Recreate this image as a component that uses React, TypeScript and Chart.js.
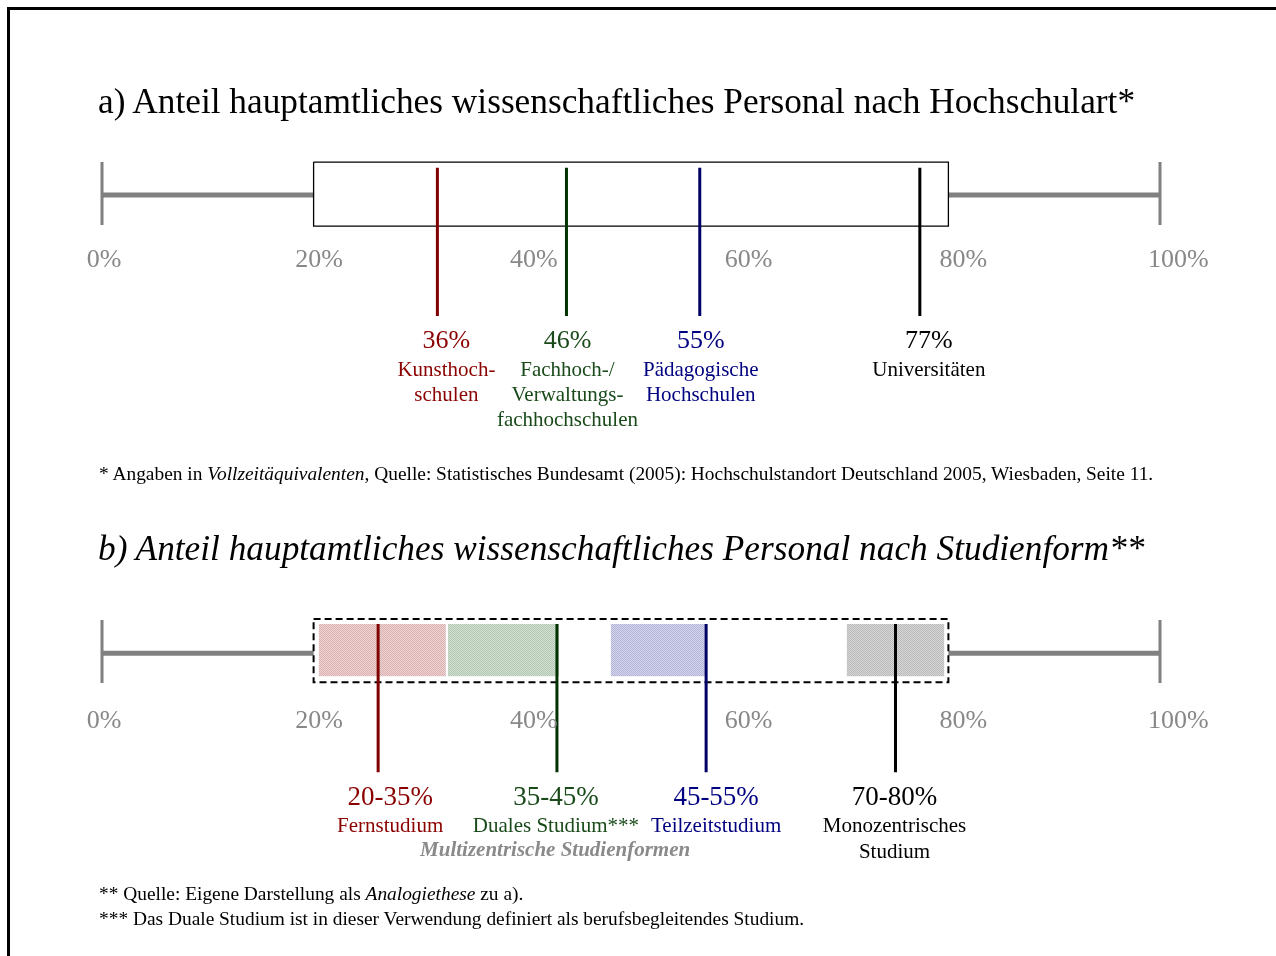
import React, { useEffect, useRef } from "react";
import { Chart, registerables } from "chart.js";

Chart.register(...registerables);

// ---------- data ----------
const tickValues = [0, 20, 40, 60, 80, 100];
const tickLabels = ["0%", "20%", "40%", "60%", "80%", "100%"];

// a) Hochschulart
const aWhisker = [0, 100];
const aBox = [20, 80];
const aMarkers = [31.7, 43.9, 56.5, 77.3];
const aValueLabels = ["36%", "46%", "55%", "77%"];
const aCategoryLines = [
  ["Kunsthoch-", "schulen"],
  ["Fachhoch-/", "Verwaltungs-", "fachhochschulen"],
  ["Pädagogische", "Hochschulen"],
  ["Universitäten"],
];

// b) Studienform
const bWhisker = [0, 100];
const bBox = [20, 80];
const bBandLow = [20.5, 32.7, 48.1, 70.4];
const bBandHigh = [32.5, 43.2, 57.1, 79.6];
const bMarkers = [26.1, 43.0, 57.1, 75.0];
const bValueLabels = ["20-35%", "35-45%", "45-55%", "70-80%"];
const bCategoryLines = [
  ["Fernstudium"],
  ["Duales Studium***"],
  ["Teilzeitstudium"],
  ["Monozentrisches", "Studium"],
];
const bGroupLabel = "Multizentrische Studienformen";

// ---------- styles / layout ----------
const lineColors = ["#800000", "#003300", "#000066", "#000000"];
const textColors = ["#8b0000", "#1a4a1a", "#000080", "#000000"];
const bandLight = ["rgb(240,212,212)", "rgb(210,224,210)", "rgb(212,212,236)", "rgb(214,214,214)"];
const bandDark = ["rgb(216,178,178)", "rgb(180,200,180)", "rgb(180,180,214)", "rgb(186,186,186)"];
const aLabelShift = [9, 1, 1, 9];
const bLabelShift = [12, -1, 10, -1];

const SERIF = '"Liberation Serif", "Times New Roman", serif';
const GRAY = "#808080";
const Y_MIN = -23.8;
const Y_MAX = 6.1;
const A_BASE = 0;
const B_BASE = -14.33;

function makePattern(light: string, dark: string) {
  const c = document.createElement("canvas");
  c.width = 2;
  c.height = 2;
  const g = c.getContext("2d")!;
  g.fillStyle = light;
  g.fillRect(0, 0, 2, 2);
  g.fillStyle = dark;
  g.fillRect(0, 0, 1, 1);
  g.fillRect(1, 1, 1, 1);
  return g.createPattern(c, "repeat")!;
}

const seg = (x0: number, y0: number, x1: number, y1: number) => [
  { x: x0, y: y0 },
  { x: x1, y: y1 },
];
const rect = (x0: number, x1: number, top: number, bottom: number) => [
  { x: x0, y: top },
  { x: x1, y: top },
  { x: x1, y: bottom },
  { x: x0, y: bottom },
  { x: x0, y: top },
];

function lineDs(data: any[], color: string, width: number, order: number, extra: any = {}) {
  return {
    data,
    showLine: true,
    borderColor: color,
    borderWidth: width,
    pointRadius: 0,
    borderCapStyle: "butt",
    borderJoinStyle: "miter",
    tension: 0,
    fill: false,
    clip: false,
    order,
    ...extra,
  };
}

const labelsPlugin = {
  id: "panelLabels",
  afterDatasetsDraw(chart: any) {
    const ctx = chart.ctx as CanvasRenderingContext2D;
    const x = chart.scales.x;
    const x2 = chart.scales.x2;
    const y = chart.scales.y;
    ctx.save();
    ctx.textAlign = "center";
    ctx.textBaseline = "alphabetic";

    // axis tick labels
    ctx.font = `26px ${SERIF}`;
    ctx.fillStyle = "#888888";
    const tickRows: [number, number][] = [
      [A_BASE, 72],
      [B_BASE, 75],
    ];
    tickRows.forEach(([base, off]) => {
      const py = y.getPixelForValue(base) + off;
      tickValues.forEach((v, i) => ctx.fillText(tickLabels[i], x2.getPixelForValue(v), py));
    });

    // panel a labels
    const aBottom = y.getPixelForValue(A_BASE - 3.78);
    aMarkers.forEach((m, i) => {
      const cx = x.getPixelForValue(m) + aLabelShift[i];
      ctx.fillStyle = textColors[i];
      ctx.font = `26px ${SERIF}`;
      ctx.fillText(aValueLabels[i], cx, aBottom + 32);
      ctx.font = `21px ${SERIF}`;
      aCategoryLines[i].forEach((t, j) => ctx.fillText(t, cx, aBottom + 60 + j * 25));
    });

    // panel b labels
    const bBottom = y.getPixelForValue(B_BASE - 3.72);
    const centers: number[] = [];
    bMarkers.forEach((m, i) => {
      const cx = x.getPixelForValue(m) + bLabelShift[i];
      centers.push(cx);
      ctx.fillStyle = textColors[i];
      ctx.font = `27px ${SERIF}`;
      ctx.fillText(bValueLabels[i], cx, bBottom + 33);
      ctx.font = `21px ${SERIF}`;
      bCategoryLines[i].forEach((t, j) => ctx.fillText(t, cx, bBottom + 60 + j * 26));
    });
    ctx.fillStyle = "#8a8a8a";
    ctx.font = `italic bold 21px ${SERIF}`;
    ctx.fillText(bGroupLabel, (centers[0] + centers[2]) / 2 + 2, bBottom + 84);
    ctx.restore();
  },
};

function ChartCanvas() {
  const ref = useRef<HTMLCanvasElement>(null);
  useEffect(() => {
    if (!ref.current) return;
    const datasets: any[] = [];

    // panel a
    datasets.push(lineDs(seg(aWhisker[0], A_BASE, aBox[0], A_BASE), GRAY, 5, 5));
    datasets.push(lineDs(seg(aBox[1], A_BASE, aWhisker[1], A_BASE), GRAY, 5, 5));
    datasets.push(lineDs(seg(aWhisker[0], A_BASE + 1.03, aWhisker[0], A_BASE - 0.94), GRAY, 3, 5));
    datasets.push(lineDs(seg(aWhisker[1], A_BASE + 1.03, aWhisker[1], A_BASE - 0.94), GRAY, 3, 5));
    datasets.push(lineDs(rect(aBox[0], aBox[1], A_BASE + 1.03, A_BASE - 0.97), "#000000", 1.3, 3));
    aMarkers.forEach((m, i) =>
      datasets.push(lineDs(seg(m, A_BASE + 0.85, m, A_BASE - 3.78), lineColors[i], 3, 0))
    );

    // panel b
    datasets.push(lineDs(seg(bWhisker[0], B_BASE, bBox[0], B_BASE), GRAY, 5, 5));
    datasets.push(lineDs(seg(bBox[1], B_BASE, bWhisker[1], B_BASE), GRAY, 5, 5));
    datasets.push(lineDs(seg(bWhisker[0], B_BASE + 1.04, bWhisker[0], B_BASE - 0.93), GRAY, 3, 5));
    datasets.push(lineDs(seg(bWhisker[1], B_BASE + 1.04, bWhisker[1], B_BASE - 0.93), GRAY, 3, 5));
    bBandLow.forEach((lo, i) =>
      datasets.push(
        lineDs(rect(lo, bBandHigh[i], B_BASE + 0.91, B_BASE - 0.72), "rgba(0,0,0,0)", 0.01, 4, {
          fill: "shape",
          backgroundColor: makePattern(bandLight[i], bandDark[i]),
        })
      )
    );
    datasets.push(
      lineDs(rect(bBox[0], bBox[1], B_BASE + 1.07, B_BASE - 0.91), "#000000", 2, 2, {
        borderDash: [7, 4],
      })
    );
    bMarkers.forEach((m, i) =>
      datasets.push(lineDs(seg(m, B_BASE + 0.91, m, B_BASE - 3.72), lineColors[i], 3, 0))
    );

    const chart = new Chart(ref.current, {
      type: "scatter",
      data: { datasets },
      options: {
        animation: false,
        responsive: false,
        maintainAspectRatio: false,
        events: [],
        layout: { padding: { left: 102, right: 116, top: 0, bottom: 0 } },
        plugins: {
          legend: { display: false },
          tooltip: { enabled: false },
          title: { display: false },
        },
        scales: {
          x: { type: "linear", min: 0, max: 100, display: false },
          x2: { type: "linear", min: -0.2, max: 98.3, display: false },
          y: { type: "linear", min: Y_MIN, max: Y_MAX, display: false },
        },
      } as any,
      plugins: [labelsPlugin],
    });
    return () => chart.destroy();
  }, []);
  return (
    <canvas
      ref={ref}
      width={1276}
      height={956}
      style={{ position: "absolute", left: 0, top: 0, width: 1276, height: 956 }}
    />
  );
}

function Txt(props: { x: number; baseline: number; size: number; italic?: boolean; children: any }) {
  const { x, baseline, size, italic, children } = props;
  return (
    <div
      style={{
        position: "absolute",
        left: x,
        top: baseline - 0.8375 * size,
        fontSize: size,
        lineHeight: `${size}px`,
        whiteSpace: "nowrap",
        fontStyle: italic ? "italic" : "normal",
        color: "#000",
        fontFamily: SERIF,
      }}
    >
      {children}
    </div>
  );
}

export default function App() {
  return (
    <div
      style={{
        position: "absolute",
        left: 0,
        top: 0,
        width: 1276,
        height: 956,
        overflow: "hidden",
        background: "#fff",
      }}
    >
      <ChartCanvas />
      <div
        style={{
          position: "absolute",
          left: 7,
          top: 7,
          width: 1400,
          height: 1100,
          border: "3px solid #000",
          pointerEvents: "none",
        }}
      />
      <Txt x={98} baseline={114} size={35.3}>
        a) Anteil hauptamtliches wissenschaftliches Personal nach Hochschulart*
      </Txt>
      <Txt x={99} baseline={480} size={19.4}>
        * Angaben in <i>Vollzeitäquivalenten</i>, Quelle: Statistisches Bundesamt (2005): Hochschulstandort
        Deutschland 2005, Wiesbaden, Seite 11.
      </Txt>
      <Txt x={98} baseline={561} size={35.3} italic>
        b) Anteil hauptamtliches wissenschaftliches Personal nach Studienform**
      </Txt>
      <Txt x={99} baseline={900} size={19.4}>
        ** Quelle: Eigene Darstellung als <i>Analogiethese</i> zu a).
      </Txt>
      <Txt x={99} baseline={925} size={19.4}>
        *** Das Duale Studium ist in dieser Verwendung definiert als berufsbegleitendes Studium.
      </Txt>
    </div>
  );
}
